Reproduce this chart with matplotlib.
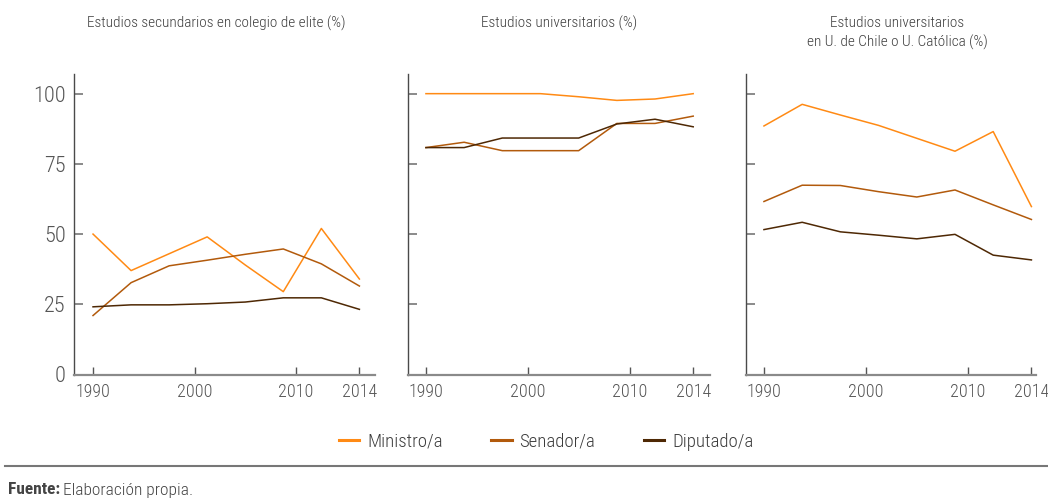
import matplotlib
matplotlib.use("Agg")
from matplotlib import pyplot as plt
from matplotlib.lines import Line2D

plt.rcParams['font.family'] = ['Roboto Condensed', 'Liberation Sans Narrow', 'DejaVu Sans']
plt.rcParams['font.stretch'] = 'condensed'
plt.rcParams['font.weight'] = 'light'

# eight observation points per series, evenly spaced
periodos = list(range(8))
tick_pos = [0, 8 / 3, 16 / 3, 7]
tick_lab = ['1990', '2000', '2010', '2014']

series = ['Ministro/a', 'Senador/a', 'Diputado/a']
colores = ['#FF8A14', '#B25A0C', '#4E2804']

titulos = ['Estudios secundarios en colegio de elite (%)',
           'Estudios universitarios (%)',
           'Estudios universitarios\nen U. de Chile o U. Católica (%)']

# colegio de elite
elite_ministro = [50, 37, 43, 49, 39, 29.5, 52, 34]
elite_senador = [21, 32.7, 38.7, 40.7, 42.8, 44.7, 39.4, 31.5]
elite_diputado = [24.1, 24.8, 24.8, 25.2, 25.8, 27.3, 27.3, 23.2]

# universitarios
univ_ministro = [100, 100, 100, 100, 98.9, 97.6, 98.1, 100]
univ_senador = [80.8, 82.7, 79.7, 79.7, 79.7, 89.4, 89.4, 92.0]
univ_diputado = [80.8, 80.8, 84.2, 84.2, 84.2, 89.2, 90.9, 88.2]

# U. de Chile o U. Catolica
uch_ministro = [88.5, 96.2, 92.4, 88.7, 84.1, 79.5, 86.5, 59.8]
uch_senador = [61.6, 67.4, 67.3, 65.1, 63.2, 65.7, 60.4, 55.2]
uch_diputado = [51.6, 54.2, 50.8, 49.6, 48.3, 49.9, 42.5, 40.8]

paneles = [
    [elite_ministro, elite_senador, elite_diputado],
    [univ_ministro, univ_senador, univ_diputado],
    [uch_ministro, uch_senador, uch_diputado],
]

W, H = 1048, 504
fig = plt.figure(figsize=(W / 100, H / 100), dpi=100)

# axes boxes in pixels: left, right, and the x-limits of each panel
cajas = [(74, 375, (-0.5, 7.41)), (408, 710, (-0.47, 7.44)), (746, 1036, (-0.47, 7.12))]
top_px, bottom_px = 74, 374.5
title_x = [216, 559, 897]

for i, (datos, (l, r, xl)) in enumerate(zip(paneles, cajas)):
    ax = fig.add_axes([l / W, 1 - bottom_px / H, (r - l) / W, (bottom_px - top_px) / H])
    for vals, c, nombre in zip(datos, colores, series):
        ax.plot(periodos, vals, color=c, lw=1.1, label=nombre)
    ax.set_xlim(*xl)
    ax.set_ylim(0, 107)
    ax.set_yticks([0, 25, 50, 75, 100])
    ax.set_xticks(tick_pos)
    ax.set_xticklabels(tick_lab)
    if i > 0:
        ax.set_yticklabels([])
    ax.spines['top'].set_visible(False)
    ax.spines['right'].set_visible(False)
    ax.spines['left'].set_color('#4a4a4a')
    ax.spines['left'].set_linewidth(1.0)
    ax.spines['bottom'].set_color('#8a8a8a')
    ax.spines['bottom'].set_linewidth(1.6)
    ax.tick_params(axis='y', direction='in', length=6.5, width=1.2, color='#777777',
                   labelsize=16, labelcolor='#555555', pad=6)
    ax.tick_params(axis='x', direction='in', length=6, width=1.0, color='#555555',
                   labelsize=13, labelcolor='#555555', pad=6)
    ax.patch.set_alpha(0)
    fig.text(title_x[i] / W, 1 - 16 / H, titulos[i], ha='center', va='top',
             fontsize=11, color='#3c3c3c', linespacing=1.4)

handles = [Line2D([], [], color=c, lw=2.2) for c in colores]
fig.legend(handles, series, loc='center', bbox_to_anchor=(546 / W, 1 - 442 / H),
           ncol=3, frameon=False, fontsize=13.5, handlelength=1.1, handletextpad=0.4,
           columnspacing=2.6, labelcolor='#3c3c3c')

fig.add_artist(Line2D([5 / W, 1], [1 - 466 / H, 1 - 466 / H], color='#777777', lw=1.5))

fuente = fig.text(8 / W, 1 - 490 / H, 'Fuente:', fontsize=12.5, fontweight='bold',
                  color='#444444', va='center')
fig.canvas.draw()
bb = fuente.get_window_extent()
fig.text((bb.x1 + 3) / W, 1 - 490 / H, 'Elaboración propia.', fontsize=12.5,
         color='#444444', va='center')

fig.savefig("out.png", dpi=100)
